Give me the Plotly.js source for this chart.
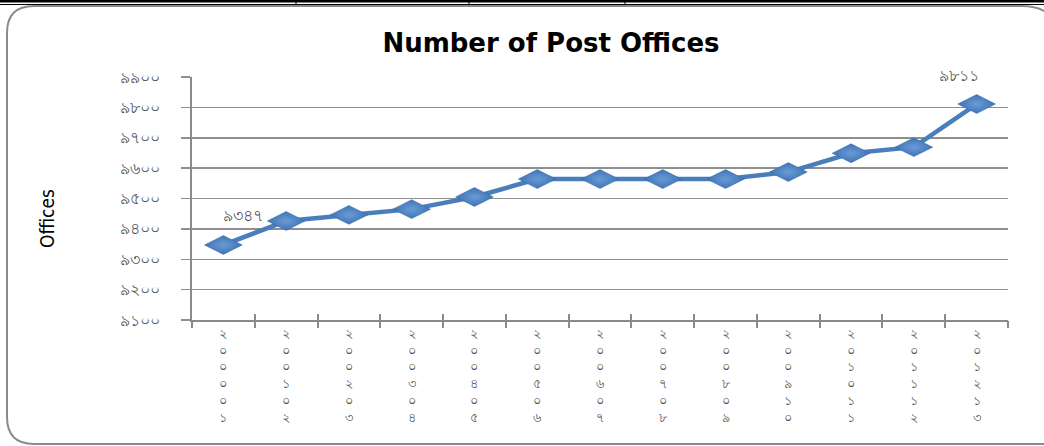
<!DOCTYPE html>
<html>
<head>
<meta charset="utf-8">
<script src="https://cdn.plot.ly/plotly-3.0.1.min.js"></script>
<style>
html,body{margin:0;padding:0;background:#fff;overflow:hidden;}
#chart{width:1044px;height:446px;}
</style>
</head>
<body>
<div id="chart"></div>
<script>
// Categories (Bengali fiscal-year labels, stacked vertically)
var categories = ["২০০০-০১","২০০১-০২","২০০২-০৩","২০০৩-০৪","২০০৪-০৫","২০০৫-০৬","২০০৬-০৭","২০০৭-০৮","২০০৮-০৯","২০০৯-১০","২০১০-১১","২০১১-১২","২০১২-১৩"];
// Number of post offices
var offices = [9347, 9426, 9446, 9465, 9505, 9564, 9564, 9564, 9564, 9587, 9649, 9669, 9811];
// Y tick values and labels (Bengali digits)
var yTickVals = [9100, 9200, 9300, 9400, 9500, 9600, 9700, 9800, 9900];
var yTickText = ["৯১০০","৯২০০","৯৩০০","৯৪০০","৯৫০০","৯৬০০","৯৭০০","৯৮০০","৯৯০০"];
// Data labels shown at first and last points
var labelIdx = [0, 12];
var labelText = ["৯৩৪৭","৯৮১১"];

function stacked(s){
  return s.replace(/-/g,"").split("").join("<br>");
}
var xTickText = categories.map(stacked);
var xIdx = categories.map(function(c,i){return i;});
var xBounds = [-0.5].concat(xIdx.map(function(i){return i+0.5;}));

var L=192, R=1008, T=77, B=320;
var PW=R-L, PH=B-T;
function px(x){return (x-L)/PW;}
function py(y){return (B-y)/PH;}

var rx=27/PW, ry=27/PH;
var fl=px(7), ft=py(6), fb=py(444);
// open frame: left, top (curving off the right edge), bottom
var framePath = "M "+px(1050)+","+fb+" L "+(fl+rx)+","+fb+" Q "+fl+","+fb+" "+fl+","+(fb+ry)+
  " L "+fl+","+(ft-ry)+" Q "+fl+","+ft+" "+(fl+rx)+","+ft+
  " L "+px(1022)+","+ft+" Q "+px(1040)+","+ft+" "+px(1052)+","+py(16);

var shapes = [
  {type:"path", xref:"paper", yref:"paper", path:framePath, line:{color:"#8a8a8a", width:2}},
  {type:"line", xref:"paper", yref:"paper", x0:px(0), x1:px(1044), y0:py(1), y1:py(1), line:{color:"#000", width:3}},
  {type:"line", xref:"paper", yref:"paper", x0:px(0), x1:px(1044), y0:py(4.5), y1:py(4.5), line:{color:"#000", width:1.2}},
  {type:"line", xref:"paper", yref:"paper", x0:px(296), x1:px(296), y0:py(0), y1:py(4), line:{color:"#000", width:1}},
  {type:"line", xref:"paper", yref:"paper", x0:px(469), x1:px(469), y0:py(0), y1:py(4), line:{color:"#000", width:1}},
  {type:"line", xref:"paper", yref:"paper", x0:px(625), x1:px(625), y0:py(0), y1:py(4), line:{color:"#000", width:1}}
];

var annotations = labelIdx.map(function(i,k){
  return {x:i, y:offices[i], xref:"x", yref:"y", text:labelText[k], showarrow:false,
    xshift:(k===0?20:-18), yshift:29, font:{family:"DejaVu Sans", size:16, color:"#555"}};
});
annotations.push({xref:"paper", yref:"paper", x:px(47), y:py(219), xanchor:"center", yanchor:"middle",
  text:"Offices", textangle:-90,
  showarrow:false, font:{family:"Liberation Sans Narrow, DejaVu Sans Condensed, sans-serif", size:19, color:"#000"}});

var trace = {
  x: xIdx, y: offices, type:"scatter", mode:"lines+markers",
  line:{color:"#4a7ebb", width:4.5},
  marker:{symbol:"diamond-wide", size:27, color:"#3e73b4",
    gradient:{type:"radial", color:"#6a9bd6"},
    line:{color:"#3a6aa6", width:0.5}},
  hoverinfo:"skip", cliponaxis:false
};

var layout = {
  width:1044, height:446,
  margin:{l:L, r:1044-R, t:T, b:446-B},
  paper_bgcolor:"#fff", plot_bgcolor:"#fff",
  showlegend:false,
  title:{text:"<b>Number of Post Offices</b>", x:551/1044, xref:"container", xanchor:"center",
    y:1-43/446, yref:"container", yanchor:"middle",
    font:{family:"DejaVu Sans, sans-serif", size:26, color:"#000"}},
  xaxis:{type:"linear", range:[-0.5, 12.5], tickvals:xIdx, ticktext:xTickText,
    showgrid:false, zeroline:false, showline:true, linecolor:"#8a8a8a", linewidth:2,
    ticks:"", tickfont:{family:"DejaVu Sans", size:13, color:"#555"}, fixedrange:true},
  xaxis2:{overlaying:"x", range:[-0.5,12.5], tickvals:xBounds,
    ticks:"outside", ticklen:7, tickwidth:2, tickcolor:"#8a8a8a", showticklabels:false, showgrid:false, zeroline:false,
    anchor:"y", side:"bottom"},
  xaxis3:{overlaying:"x", range:[-0.5,12.5], tickvals:xBounds,
    ticks:"inside", ticklen:6, tickwidth:2, tickcolor:"#8a8a8a", showticklabels:false, showgrid:false, zeroline:false,
    anchor:"y", side:"bottom"},
  yaxis:{range:[9100, 9900], tickvals:yTickVals, ticktext:yTickText,
    showgrid:true, gridcolor:"#8f8f8f", gridwidth:1.5, zeroline:false,
    showline:true, linecolor:"#8a8a8a", linewidth:2,
    ticks:"outside", ticklen:9, tickwidth:1.5, tickcolor:"#8f8f8f",
    ticklabelstandoff:18,
    tickfont:{family:"DejaVu Sans", size:16, color:"#555"}, fixedrange:true},
  shapes:shapes,
  annotations:annotations
};

var dummy2 = {x:[0], y:[9100], xaxis:"x2", yaxis:"y", mode:"markers", marker:{opacity:0}, hoverinfo:"skip", type:"scatter"};
var dummy3 = {x:[0], y:[9100], xaxis:"x3", yaxis:"y", mode:"markers", marker:{opacity:0}, hoverinfo:"skip", type:"scatter"};

Plotly.newPlot("chart", [dummy2, dummy3, trace], layout, {staticPlot:true, displayModeBar:false});
</script>
</body>
</html>
